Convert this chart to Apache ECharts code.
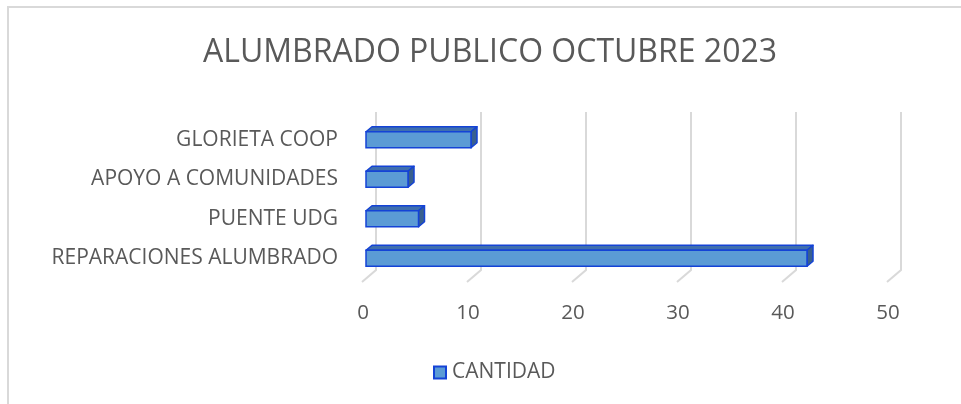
<!DOCTYPE html>
<html>
<head>
<meta charset="utf-8">
<script src="https://cdn.jsdelivr.net/npm/echarts@6/dist/echarts.min.js"></script>
<style>
html,body{margin:0;padding:0;background:#fff;}
#chart{width:961px;height:404px;}
</style>
</head>
<body>
<div id="chart"></div>
<script>
const titleText = 'ALUMBRADO PUBLICO OCTUBRE 2023';
const seriesName = 'CANTIDAD';
const categories = ['REPARACIONES ALUMBRADO', 'PUENTE UDG', 'APOYO A COMUNIDADES', 'GLORIETA COOP'];
const values = [42, 5, 4, 10];
const xTicks = [0, 10, 20, 30, 40, 50];

const FONT = 'Open Sans';
const TXT = '#595959';
const GRIDC = '#d9d9d9';

const chart = echarts.init(document.getElementById('chart'), null, {renderer: 'canvas'});

const barData = values.map((v, i) => [v, i]);
const gridData = xTicks.map(t => [t, 0]);

function renderBar(params, api) {
  const v = api.value(0), idx = api.value(1);
  const s = api.coord([0, idx]);
  const e = api.coord([v, idx]);
  const off = 3, h = 8, dx = 6, dy = 5;
  const x0 = s[0] + off, x1 = e[0] + off, y0 = s[1] - h, y1 = s[1] + h;
  const stroke = '#1443d6';
  return {
    type: 'group',
    children: [
      {type: 'polygon', shape: {points: [[x0, y0], [x0 + dx, y0 - dy], [x1 + dx, y0 - dy], [x1, y0]]},
       style: {fill: '#3f6fae', stroke: stroke, lineWidth: 1.5, lineJoin: 'round'}},
      {type: 'polygon', shape: {points: [[x1, y0], [x1 + dx, y0 - dy], [x1 + dx, y1 - dy], [x1, y1]]},
       style: {fill: '#385f8f', stroke: stroke, lineWidth: 1.5, lineJoin: 'round'}},
      {type: 'rect', shape: {x: x0, y: y0, width: x1 - x0, height: y1 - y0},
       style: {fill: '#5b9bd5', stroke: stroke, lineWidth: 1.5}}
    ]
  };
}

function renderGrid(params, api) {
  const c = api.coord([api.value(0), 0])[0];
  const cs = params.coordSys;
  const top = cs.y - 8, bot = cs.y + cs.height - 8, floor = cs.y + cs.height + 4;
  return {
    type: 'polyline',
    shape: {points: [[c + 13, top], [c + 13, bot], [c - 1, floor]]},
    style: {stroke: GRIDC, lineWidth: 2, fill: null},
    silent: true
  };
}

chart.setOption({
  animation: false,
  backgroundColor: '#fff',
  textStyle: {fontFamily: FONT},
  title: {
    text: titleText, left: 485, top: 32, textAlign: 'center',
    textStyle: {fontFamily: FONT, fontSize: 32, fontWeight: 'normal', color: TXT}
  },
  graphic: [{
    type: 'rect', silent: true, z: -10,
    shape: {x: 8, y: 7, width: 1000, height: 500},
    style: {fill: 'none', stroke: GRIDC, lineWidth: 2}
  }],
  legend: {
    data: [seriesName], left: 428, top: 357, icon: 'rect', itemWidth: 12, itemHeight: 12, itemGap: 4,
    textStyle: {fontFamily: FONT, fontSize: 21, color: TXT, padding: [0, 0, 0, 1]}
  },
  grid: {left: 363, right: 73, top: 120, bottom: 126, containLabel: false},
  xAxis: {
    type: 'value', min: 0, max: 50, interval: 10,
    axisLine: {show: false}, axisTick: {show: false}, splitLine: {show: false},
    axisLabel: {fontFamily: FONT, fontSize: 20.5, color: TXT, margin: 25}
  },
  yAxis: {
    type: 'category', data: categories,
    axisLine: {show: false}, axisTick: {show: false}, splitLine: {show: false},
    axisLabel: {fontFamily: FONT, fontSize: 21, color: TXT, margin: 25}
  },
  series: [
    {
      name: 'grid', type: 'custom', renderItem: renderGrid, data: gridData,
      encode: {x: 0, y: 1}, z: 1, silent: true, legendHoverLink: false
    },
    {
      name: seriesName, type: 'custom', renderItem: renderBar, data: barData,
      encode: {x: 0, y: 1}, z: 2,
      itemStyle: {color: '#5b9bd5', borderColor: '#1443d6', borderWidth: 1.5}
    }
  ]
});
</script>
</body>
</html>
